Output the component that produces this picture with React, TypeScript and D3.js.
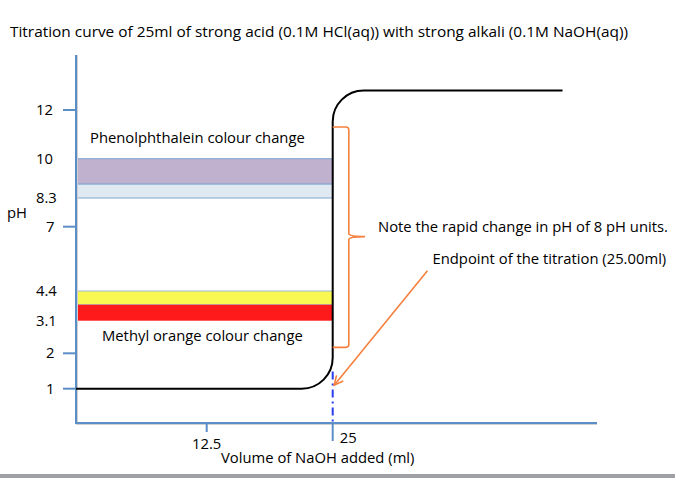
import React from "react";
import * as d3 from "d3";

const W = 675;
const H = 478;
const FONT = "'Open Sans', Lato, sans-serif";
const FS = 14.8;

// pH axis (diagrammatic, non-linear): values and tick marks
const phValues = [1, 2, 3.1, 4.4, 7, 8.3, 10, 12];
const phLabels = ["1", "2", "3.1", "4.4", "7", "8.3", "10", "12"];
const phTicks = [1, 2, 7, 12];
// volume axis
const volValues = [0, 12.5, 25, 50];
const volTicks = [12.5, 25];
const volTickLabels = ["12.5", "25"];

// titration curve (corner points, rounded)
const curveVol = [0, 25, 25, 47.8];
const curvePH = [1, 1, 12.8, 12.8];

// indicator bands [top pH, bottom pH]
const phenolBands = [
  [10, 8.9],
  [8.9, 8.3],
];
const phenolColors = ["#c0b1cf", "#e0e8f2"];
const methylBands = [
  [4.4, 3.8],
  [3.8, 3.1],
];
const methylColors = ["#f9f751", "#fe1a1a"];

// brace: pH top / mid / bottom, volumes
const bracePH = [11.3, 6.6, 2.2];
const braceVol = [25, 26.6, 28.2];
// arrow from label to endpoint
const arrowFrom = [34.4, 5.22];
const arrowTo = [25.15, 1.1];
// endpoint marker
const endpointVol = 25;
const endpointPH = 1.6;

export default function App() {
  const y = d3
    .scaleLinear()
    .domain(phValues)
    .range([388.7, 353.3, 320.7, 291, 226.7, 198, 158.7, 110]);
  const x = d3.scaleLinear().domain(volValues).range([76, 206.7, 332.7, 584.7]);

  const axisX = 76;
  const axisY = 423;
  const axisColor = "#5b8ec6";

  // curve with rounded corners
  const r = 31;
  const p = d3.path();
  p.moveTo(x(curveVol[0]), y(curvePH[0]));
  p.arcTo(x(curveVol[1]), y(curvePH[1]), x(curveVol[2]), y(curvePH[2]), r);
  p.arcTo(x(curveVol[2]), y(curvePH[2]), x(curveVol[3]), y(curvePH[3]), r);
  p.lineTo(x(curveVol[3]), y(curvePH[3]));

  const bx0 = x(braceVol[0]);
  const bx1 = x(braceVol[1]);
  const bx2 = x(braceVol[2]);
  const byT = y(bracePH[0]);
  const byM = y(bracePH[1]);
  const byB = y(bracePH[2]);
  const brace = `M${bx0},${byT} H${bx1 - 3} Q${bx1},${byT} ${bx1},${byT + 3} V${byM - 3} Q${bx1},${byM} ${bx2},${byM} Q${bx1},${byM} ${bx1},${byM + 3} V${byB - 3} Q${bx1},${byB} ${bx1 - 3},${byB} H${bx0}`;

  const ax0 = x(arrowFrom[0]);
  const ay0 = y(arrowFrom[1]);
  const ax1 = x(arrowTo[0]);
  const ay1 = y(arrowTo[1]);
  const ang = Math.atan2(ay1 - ay0, ax1 - ax0);
  const ah = 10;
  const h1 = [ax1 - ah * Math.cos(ang - 0.45), ay1 - ah * Math.sin(ang - 0.45)];
  const h2 = [ax1 - ah * Math.cos(ang + 0.45), ay1 - ah * Math.sin(ang + 0.45)];

  const bandRect = (bands: number[][], colors: string[], strokes: string[]) =>
    bands.map((b, i) => (
      <rect
        key={i}
        x={axisX}
        y={y(b[0])}
        width={x(25) - axisX}
        height={y(b[1]) - y(b[0])}
        fill={colors[i]}
        stroke={strokes[i]}
        strokeWidth={1}
      />
    ));

  return (
    <svg
      width={W}
      height={H}
      style={{ position: "absolute", left: 0, top: 0, background: "#fff" }}
      fontFamily={FONT}
    >
      <rect x={0} y={0} width={W} height={H} fill="#fff" />
      <text x={10} y={37} fontSize={FS} fill="#000" textLength={618} lengthAdjust="spacingAndGlyphs">
        Titration curve of 25ml of strong acid (0.1M HCl(aq)) with strong alkali (0.1M NaOH(aq))
      </text>

      {bandRect(phenolBands, phenolColors, ["#7fa6d0", "#7fa6d0"])}
      {bandRect(methylBands, methylColors, ["#9bb8da", "none"])}

      {/* axes */}
      <line x1={axisX + 1} y1={55} x2={axisX + 1} y2={axisY + 1} stroke="#d0d0d0" strokeWidth={2} />
      <line x1={axisX} y1={axisY + 1} x2={597} y2={axisY + 1} stroke="#d0d0d0" strokeWidth={2} />
      <line x1={axisX} y1={55} x2={axisX} y2={axisY} stroke={axisColor} strokeWidth={2} />
      <line x1={axisX - 1} y1={axisY} x2={597} y2={axisY} stroke={axisColor} strokeWidth={2} />
      {phTicks.map((t) => (
        <line key={t} x1={63} x2={axisX} y1={y(t)} y2={y(t)} stroke={axisColor} strokeWidth={2} />
      ))}
      {volTicks.map((t, i) => (
        <line
          key={t}
          x1={x(t)}
          x2={x(t)}
          y1={axisY}
          y2={i === 0 ? 432 : 441}
          stroke={axisColor}
          strokeWidth={2}
        />
      ))}

      {phValues.map((v, i) => {
        const lbl = phLabels[i];
        const dec = lbl.includes(".");
        const two = lbl.length === 2;
        return (
          <text
            key={v}
            x={dec || two ? 36 : 46}
            y={y(v)}
            dy="0.35em"
            fontSize={FS}
            textAnchor="start"
            fill="#000"
          >
            {lbl}
          </text>
        );
      })}
      <text x={7} y={218} fontSize={FS} fill="#000">
        pH
      </text>

      {volTicks.map((t, i) => (
        <text
          key={t}
          x={i === 0 ? x(t) : x(t) + 7}
          y={i === 0 ? 449 : 443}
          fontSize={FS}
          textAnchor={i === 0 ? "middle" : "start"}
          fill="#000"
        >
          {volTickLabels[i]}
        </text>
      ))}
      <text x={221} y={463} fontSize={FS} fill="#000">
        Volume of NaOH added (ml)
      </text>

      {/* endpoint dashed line */}
      <line
        x1={x(endpointVol)}
        x2={x(endpointVol)}
        y1={y(endpointPH) + 4}
        y2={axisY - 1}
        stroke="#2a3cf0"
        strokeWidth={2}
        strokeDasharray="8,4,2,4"
      />

      {/* titration curve */}
      <path d={p.toString()} fill="none" stroke="#000" strokeWidth={2} />

      {/* brace */}
      <path d={brace} fill="none" stroke="#f5803e" strokeWidth={1.6} />

      {/* arrow */}
      <line x1={ax0} y1={ay0} x2={ax1} y2={ay1} stroke="#f5803e" strokeWidth={1.6} />
      <path
        d={`M${h1[0]},${h1[1]} L${ax1},${ay1} L${h2[0]},${h2[1]}`}
        fill="none"
        stroke="#f5803e"
        strokeWidth={1.6}
      />

      <text x={90} y={143} fontSize={FS} fill="#000">
        Phenolphthalein colour change
      </text>
      <text x={102} y={341} fontSize={FS} fill="#000">
        Methyl orange colour change
      </text>
      <text x={378} y={232} fontSize={FS} fill="#000">
        Note the rapid change in pH of 8 pH units.
      </text>
      <text x={432.5} y={263.5} fontSize={FS} fill="#000">
        Endpoint of the titration (25.00ml)
      </text>

      {/* bottom bar */}
      <rect x={0} y={474} width={W} height={4} fill="#9ea0a6" />
    </svg>
  );
}
